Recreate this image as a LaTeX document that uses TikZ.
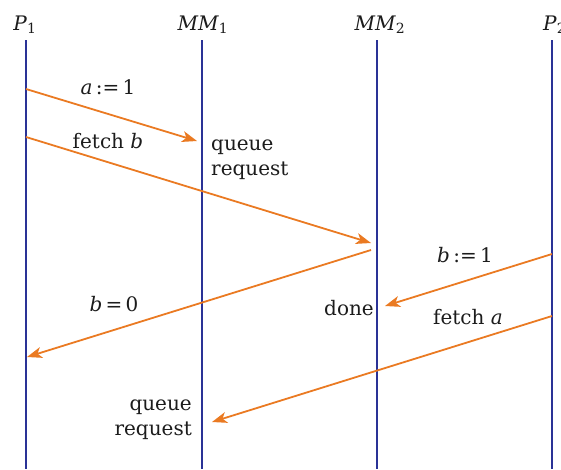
\documentclass[tikz,border=0pt]{standalone}
\usepackage{fontspec}
\setmainfont{DejaVu Serif}
\usetikzlibrary{arrows.meta}
\definecolor{lifeblue}{RGB}{42,50,150}
\definecolor{msgorange}{RGB}{234,122,34}
\definecolor{txt}{RGB}{28,28,28}
\newcommand{\vsub}[2]{\textit{#1}\textsubscript{#2}}
\begin{document}
\begin{tikzpicture}[x=1pt,y=-1pt,
  life/.style={draw=lifeblue,line width=2.9pt},
  msg/.style={draw=msgorange,line width=1.8pt,-{Stealth[length=15pt,width=11pt,inset=4pt]}},
  lbl/.style={text=txt,font=\fontsize{20}{24}\selectfont,inner sep=0pt,anchor=base}]
\useasboundingbox (0,0) rectangle (561,469);
% headers
\node[lbl] (hP1) at (25,30) {\vsub{P}{1}};
\node[lbl] (hM1) at (203,30) {\vsub{MM}{1}};
\node[lbl] (hM2) at (380,30) {\vsub{MM}{2}};
\node[lbl,anchor=base west] (hP2) at (543,30) {\vsub{P}{2}};
% lifelines
\coordinate (p1t) at (26,40); \coordinate (p1b) at (26,469);
\coordinate (m1t) at (202,40); \coordinate (m1b) at (202,469);
\coordinate (m2t) at (377,40); \coordinate (m2b) at (377,469);
\coordinate (p2t) at (552,40); \coordinate (p2b) at (552,469);
\draw[life] (p1t) -- (p1b);
\draw[life] (m1t) -- (m1b);
\draw[life] (m2t) -- (m2b);
\draw[life] (p2t) -- (p2b);
% message endpoints
\coordinate (a1s) at (26,89);  \coordinate (a1e) at (197,141);
\coordinate (a2s) at (26,137); \coordinate (a2e) at (371,243);
\coordinate (a3s) at (371,250); \coordinate (a3e) at (27,357);
\coordinate (a4s) at (552,254); \coordinate (a4e) at (385,306);
\coordinate (a5s) at (552,316); \coordinate (a5e) at (212,422);
\draw[msg] (a1s) -- (a1e);
\draw[msg] (a2s) -- (a2e);
\draw[msg] (a3s) -- (a3e);
\draw[msg] (a4s) -- (a4e);
\draw[msg] (a5s) -- (a5e);
% labels
\node[lbl] (la1) at (108,94) {\textit{a}\,:=\,1};
\node[lbl] (la2) at (108,148) {fetch \textit{b}};
\node[lbl,anchor=base west] (lq1a) at (211,150) {queue};
\node[lbl,anchor=base west] (lq1b) at (211,175) {request};
\node[lbl] (la3) at (114,311) {\textit{b}\,=\,0};
\node[lbl] (la4) at (465,262) {\textit{b}\,:=\,1};
\node[lbl,anchor=base east] (ldone) at (374,315) {done};
\node[lbl] (la5) at (468,324) {fetch \textit{a}};
\node[lbl,anchor=base east] (lq2a) at (192,410) {queue};
\node[lbl,anchor=base east] (lq2b) at (192,435) {request};
\end{tikzpicture}
\end{document}
